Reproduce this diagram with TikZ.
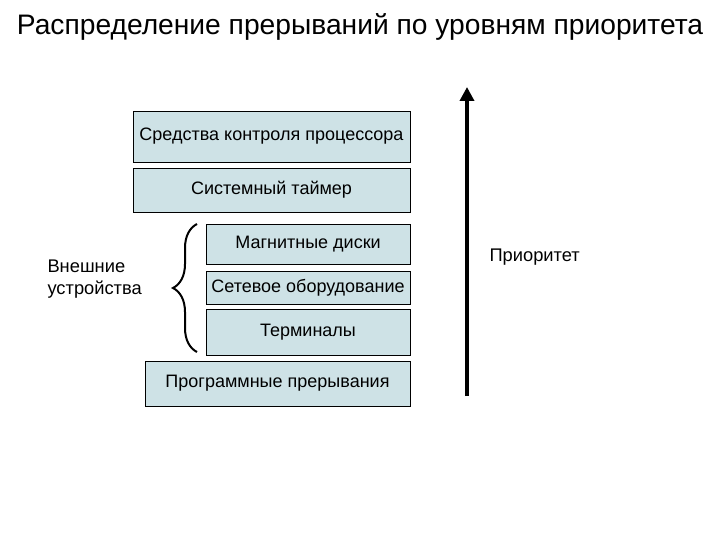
\documentclass[tikz,border=0pt]{standalone}
\usepackage{fontspec}
\setmainfont{Liberation Sans}
\usetikzlibrary{arrows.meta,decorations.pathreplacing}
\definecolor{boxfill}{RGB}{206,226,230}
\tikzset{
  level/.style={rectangle,draw,fill=boxfill,inner sep=0pt,font=\fontsize{18}{22}\selectfont},
  note/.style={font=\fontsize{18.3}{22}\selectfont}
}
\begin{document}
\begin{tikzpicture}[x=1pt,y=-1pt]
	\useasboundingbox (0,0) rectangle (720,540);
	\node at (360,27) [font=\fontsize{28.2}{32}\selectfont] (title) {Распределение прерываний по уровням приоритета};

        \node at (271.5,136.5) [level,minimum width=277pt,minimum height=51pt] (cpu) {Средства контроля процессора};
        \node at (271.5,190) [level,minimum width=277pt,minimum height=44pt] (timer) {Системный таймер};
        \node at (308,244) [level,minimum width=204pt,minimum height=40pt] (disk) {Магнитные диски};
        \node at (308,287.5) [level,minimum width=204pt,minimum height=33pt] (net) {Сетевое оборудование};
        \node at (308,332) [level,minimum width=204pt,minimum height=46pt] (term) {Терминалы};
        \node at (277.5,383.5) [level,minimum width=265pt,minimum height=45pt] (soft) {Программные прерывания};

	\coordinate (brtop) at (197,224);
	\coordinate (brbot) at (197,352);
	\node at (44,279) [note,anchor=west,align=left] (ext) {Внешние\\устройства};

	\coordinate (lo) at (467,396);
	\coordinate (hi) at (467,87);
	\node at (486,257) [note,anchor=west] (prio) {Приоритет};

	\draw [line width=2pt,decorate,decoration={brace,amplitude=24pt,aspect=0.5}] (brbot) -- (brtop);
	\draw [line width=4pt,-{Triangle[length=14pt,width=14pt]}] (lo) -- (hi);
    \end{tikzpicture}
\end{document}
